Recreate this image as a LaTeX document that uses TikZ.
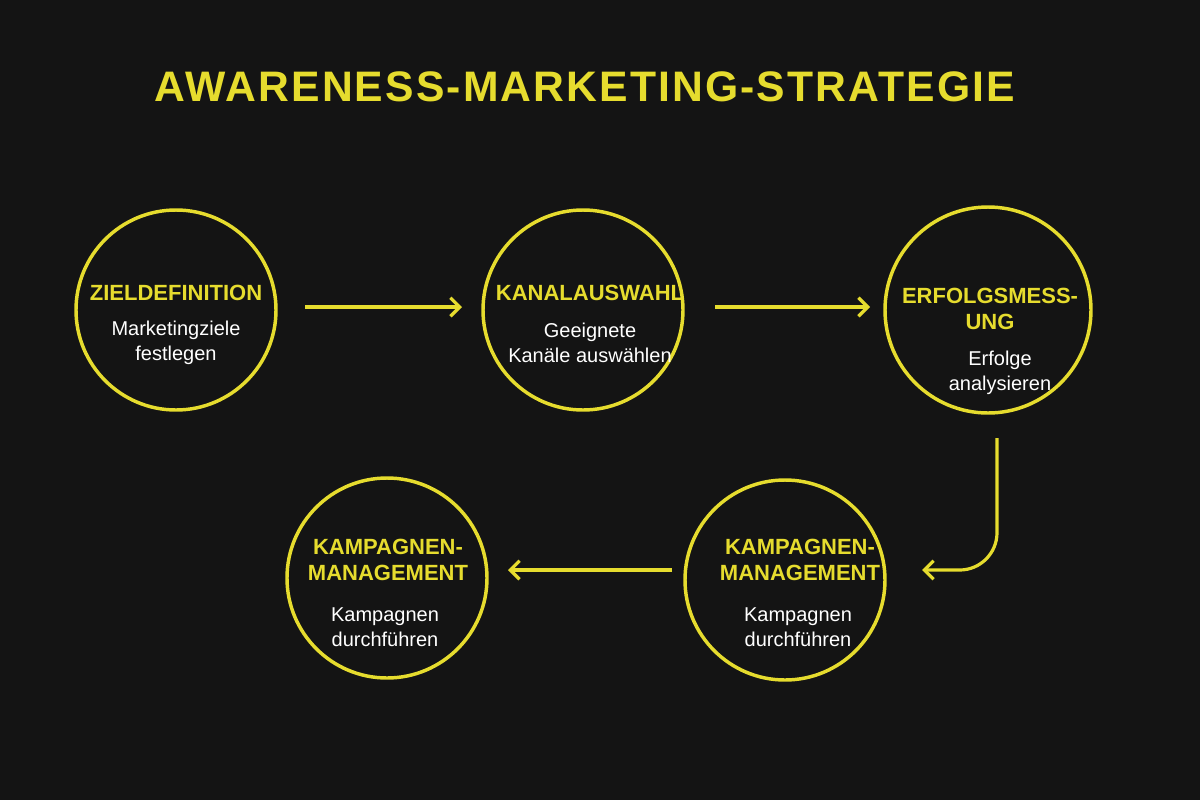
\documentclass[tikz,border=0pt]{standalone}
\usepackage{fontspec}
\setmainfont{Liberation Sans}
\usetikzlibrary{arrows.meta}
\definecolor{bg}{HTML}{141414}
\definecolor{yel}{HTML}{E6DC2E}
\begin{document}
\begin{tikzpicture}[x=0.75pt,y=-0.75pt,
  ring/.style={circle,draw=yel,line width=2.6pt,minimum size=200*0.75pt,inner sep=0pt},
  ttl/.style={text=yel,font=\bfseries\fontsize{16.5}{20}\selectfont,align=center},
  sub/.style={text=white,font=\fontsize{15}{19}\selectfont,align=center},
  arr/.style={draw=yel,line width=2.4pt,-{Straight Barb[length=7pt,width=14pt]}}]
\fill[bg] (0,0) rectangle (1200,800);
\useasboundingbox (0,0) rectangle (1200,800);
\node[text=yel,font=\bfseries\fontsize{32}{38}\selectfont\addfontfeature{LetterSpace=5}] (title) at (585,87) {AWARENESS-MARKETING-STRATEGIE};
\node[ring] (c1) at (176,310) {};
\node[ring] (c2) at (583,310) {};
\node[ring,minimum size=206*0.75pt] (c3) at (988,310) {};
\node[ring] (c4) at (785,580) {};
\node[ring] (c5) at (387,578) {};
\node[ttl] (t1) at (176,293) {ZIELDEFINITION};
\node[sub] (s1) at (176,343) {Marketingziele\\festlegen};
\node[ttl] (t2) at (590,293) {KANALAUSWAHL};
\node[sub] (s2) at (590,343) {Geeignete\\Kanäle auswählen};
\node[ttl] (t3) at (990,309) {ERFOLGSMESS-\\UNG};
\node[sub] (s3) at (1000,373) {Erfolge\\analysieren};
\node[ttl] (t4) at (800,560) {KAMPAGNEN-\\MANAGEMENT};
\node[sub] (s4) at (798,627) {Kampagnen\\durchführen};
\node[ttl] (t5) at (388,560) {KAMPAGNEN-\\MANAGEMENT};
\node[sub] (s5) at (385,627) {Kampagnen\\durchführen};
\coordinate (a1) at (305,307); \coordinate (b1) at (462,307);
\coordinate (a2) at (715,307); \coordinate (b2) at (870,307);
\coordinate (a3) at (997,438); \coordinate (b3) at (922,570);
\coordinate (a4) at (672,570); \coordinate (b4) at (508,570);
\draw[arr] (a1) -- (b1);
\draw[arr] (a2) -- (b2);
\draw[arr,rounded corners=28pt] (a3) -- (997,570) -- (b3);
\draw[arr] (a4) -- (b4);
\end{tikzpicture}
\end{document}
